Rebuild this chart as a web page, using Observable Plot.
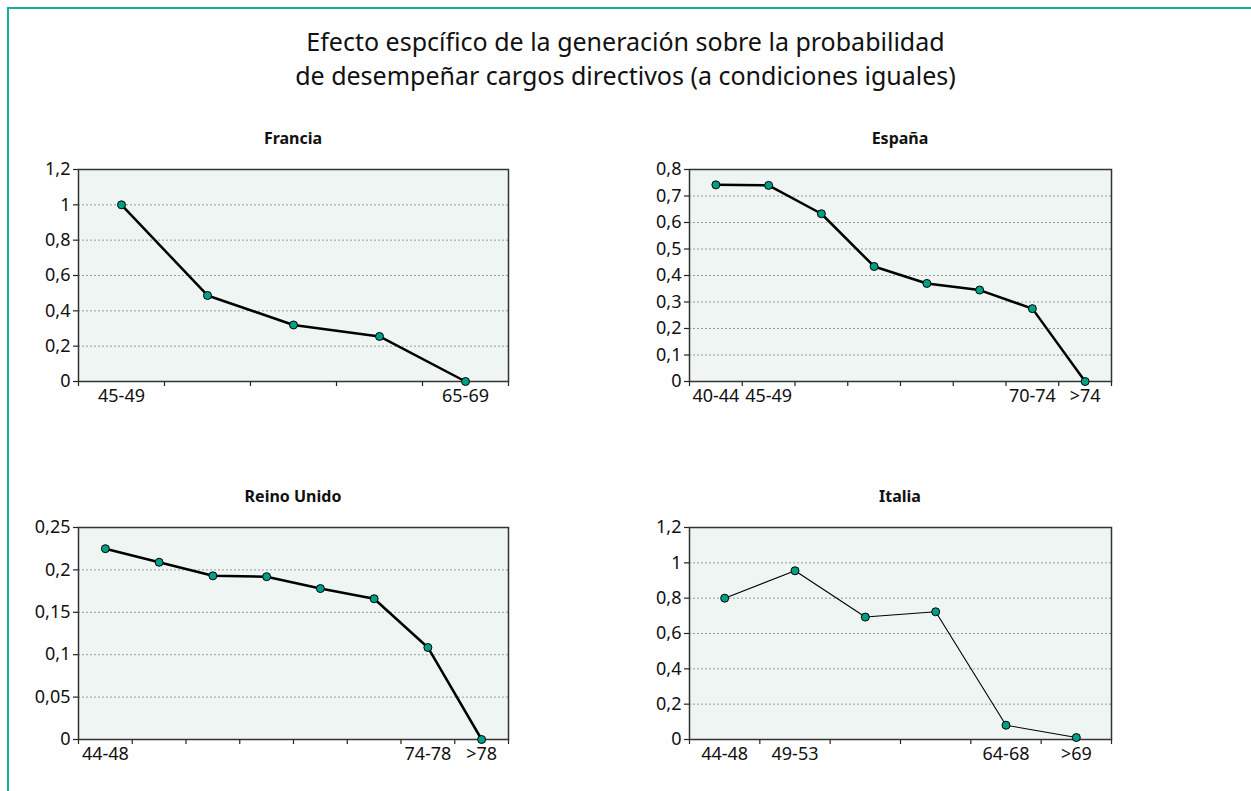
<!DOCTYPE html>
<html><head><meta charset="utf-8">
<script src="https://cdn.jsdelivr.net/npm/d3@7"></script>
<script src="https://cdn.jsdelivr.net/npm/@observablehq/plot@0.6"></script>
<style>
body{margin:0;background:#fff;font-family:"Noto Sans",sans-serif;}
#page{position:relative;width:1251px;height:791px;overflow:hidden;background:#fff;}
#border{position:absolute;left:7px;top:7px;right:0;bottom:0;border-top:2px solid #19ad95;border-left:2px solid #19ad95;}
.title{position:absolute;left:0;width:1251px;text-align:center;font-size:25px;line-height:34px;color:#111;white-space:nowrap;}
.sub{position:absolute;font-weight:bold;font-size:16px;line-height:20px;text-align:center;color:#111;}
.chart{position:absolute;}
</style></head><body>
<div id="page">
  <div id="border"></div>
  <div class="title" style="top:24px">Efecto espcífico de la generación sobre la probabilidad</div>
  <div class="title" style="top:58px">de desempeñar cargos directivos (a condiciones iguales)</div>
</div>
<script>
// ---- data ----
const franciaCategories = ["45-49","50-54","55-59","60-64","65-69"];
const franciaLabels     = ["45-49","","","","65-69"];
const franciaValues     = [1.0, 0.487, 0.32, 0.255, 0];

const espanaCategories = ["40-44","45-49","50-54","55-59","60-64","65-69","70-74",">74"];
const espanaLabels     = ["40-44","45-49","","","","","70-74",">74"];
const espanaValues     = [0.742, 0.74, 0.633, 0.434, 0.37, 0.345, 0.275, 0];

const reinoCategories = ["44-48","49-53","54-58","59-63","64-68","69-73","74-78",">78"];
const reinoLabels     = ["44-48","","","","","","74-78",">78"];
const reinoValues     = [0.225, 0.209, 0.193, 0.192, 0.178, 0.166, 0.1085, 0];

const italiaCategories = ["44-48","49-53","54-58","59-63","64-68",">69"];
const italiaLabels     = ["44-48","49-53","","","64-68",">69"];
const italiaValues     = [0.80, 0.955, 0.693, 0.723, 0.081, 0.011];

const panelTitles = ["Francia","España","Reino Unido","Italia"];
const yMaxes = [1.2, 0.8, 0.25, 1.2];
const ySteps = [0.2, 0.1, 0.05, 0.2];

// ---- layout ----
const ML = 70, MR = 20, MT = 20, MB = 40;
const panels = [
  {cats: franciaCategories, labels: franciaLabels, values: franciaValues, fx: 78,  fy: 169, fw: 430, fh: 212, lw: 2.5},
  {cats: espanaCategories,  labels: espanaLabels,  values: espanaValues,  fx: 689, fy: 169, fw: 422, fh: 212, lw: 2.5},
  {cats: reinoCategories,   labels: reinoLabels,   values: reinoValues,   fx: 78,  fy: 527, fw: 430, fh: 212, lw: 2.5},
  {cats: italiaCategories,  labels: italiaLabels,  values: italiaValues,  fx: 689, fy: 527, fw: 422, fh: 212, lw: 1.1}
];

const fmt = d => String(d).replace(".", ",");
const page = document.getElementById("page");

panels.forEach((p, k) => {
  const n = p.cats.length;
  const data = p.cats.map((c, i) => ({cat: c, i: i + 0.5, v: p.values[i]}));
  const yMax = yMaxes[k], yStep = ySteps[k];
  const yTicks = d3.range(0, Math.round(yMax / yStep) + 1).map(j => +(j * yStep).toFixed(4));
  const chart = Plot.plot({
    width: p.fw + ML + MR,
    height: p.fh + MT + MB,
    marginLeft: ML, marginRight: MR, marginTop: MT, marginBottom: MB,
    x: {type: "linear", domain: [0, n], axis: null},
    y: {type: "linear", domain: [0, yMax], axis: null},
    style: {fontFamily: "'Noto Sans', sans-serif", fontSize: "18px", color: "#111", background: "transparent", overflow: "visible"},
    marks: [
      Plot.frame({fill: "#eef5f2", stroke: null}),
      Plot.ruleY(yTicks.slice(1, -1), {stroke: "#9a9a9a", strokeDasharray: "2,2", strokeWidth: 1}),
      Plot.axisY({ticks: yTicks, tickFormat: fmt, tickSize: 5, tickPadding: 3, stroke: "#222", strokeWidth: 1.2, label: null}),
      Plot.axisX({ticks: d3.range(0, n + 1), tickFormat: () => "", tickSize: 5, stroke: "#222", strokeWidth: 1.2, label: null}),
      Plot.axisX({ticks: data.map(d => d.i), tickFormat: d => p.labels[Math.floor(d)], tickSize: 0, tickPadding: 8, label: null}),
      Plot.frame({stroke: "#333", strokeWidth: 1.5}),
      Plot.line(data, {x: "i", y: "v", stroke: "#000", strokeWidth: p.lw}),
      Plot.dot(data, {x: "i", y: "v", r: 4, fill: "#00a088", stroke: "#000", strokeWidth: 1})
    ]
  });
  chart.classList.add("chart");
  chart.style.left = (p.fx - ML) + "px";
  chart.style.top = (p.fy - MT) + "px";
  page.appendChild(chart);

  const t = document.createElement("div");
  t.className = "sub";
  t.textContent = panelTitles[k];
  t.style.left = p.fx + "px";
  t.style.width = p.fw + "px";
  t.style.top = (p.fy - 41) + "px";
  page.appendChild(t);
});
</script>
</body></html>
